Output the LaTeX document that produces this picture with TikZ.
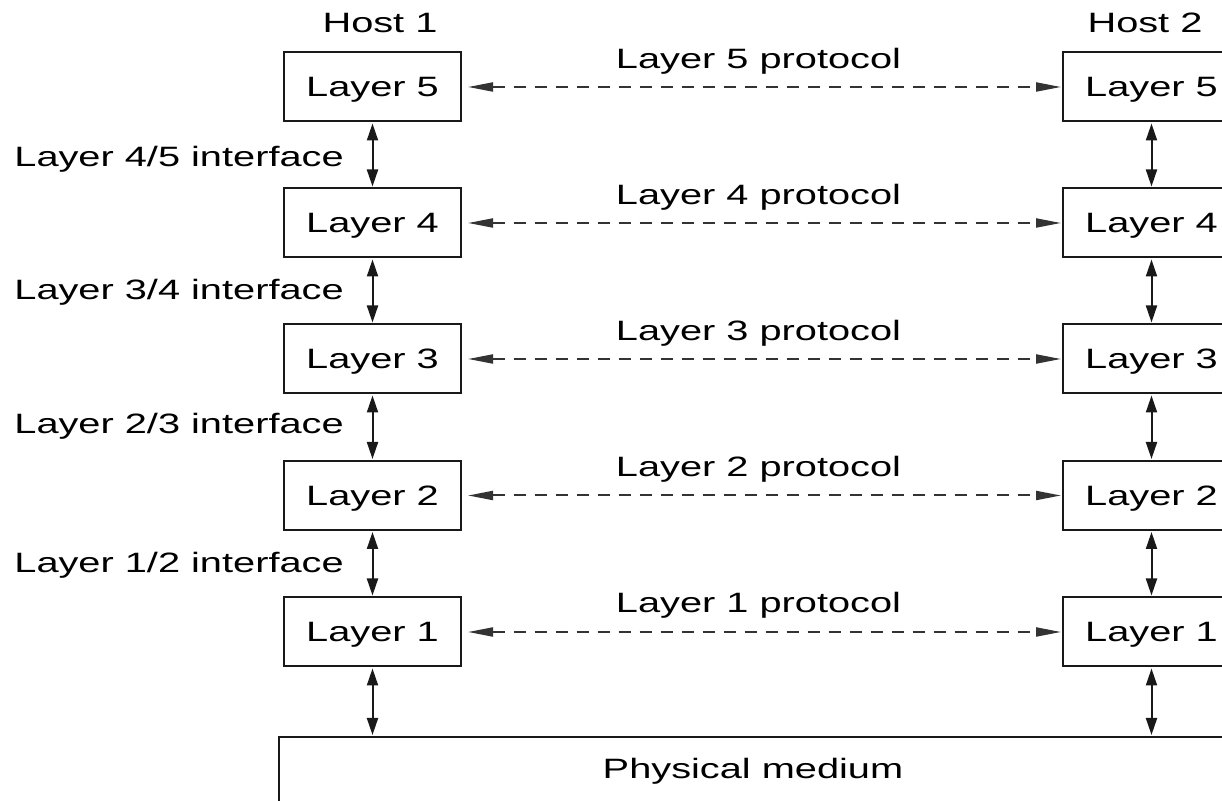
\documentclass[tikz,border=0pt]{standalone}
\usepackage{fontspec}
\newfontfamily\wf{Liberation Sans}[FakeStretch=1.42]
\usetikzlibrary{arrows.meta}
\begin{document}
\begin{tikzpicture}[x=0.5pt,y=-0.5pt,
  txt/.style={font=\wf\fontsize{14pt}{16pt}\selectfont, inner sep=0pt, text=black},
  layerbox/.style={txt, draw=black!90, line width=1pt, minimum width=88.5pt, minimum height=34.5pt, text height=10pt, text depth=0pt},
  vert/.style={draw=black!90, line width=1pt, {Triangle[length=8.5pt,width=5.5pt]}-{Triangle[length=8.5pt,width=5.5pt]}, shorten <=0.5pt, shorten >=0.5pt},
  proto/.style={draw=black!80, line width=1pt, dash pattern=on 6pt off 4.5pt, {Triangle[length=12.5pt,width=4.5pt]}-{Triangle[length=12.5pt,width=4.5pt]}, shorten <=3pt, shorten >=0.5pt}
]
\useasboundingbox (0,0) rectangle (1222,801);
\clip (0,0) rectangle (1222,801);
\fill[white] (0,0) rectangle (1222,801);

\node[txt, anchor=base] (h1) at (380,33) {Host 1};
\node[txt, anchor=base] (h2) at (1145,33) {Host 2};

\foreach \i/\y in {5/87,4/223,3/359,2/495.5,1/632}{
  \node[layerbox] (l\i) at (372.5,\y) {Layer \i};
  \node[layerbox] (r\i) at (1151.5,\y) {Layer \i};
}

\foreach \i/\b in {5/69,4/205,3/341,2/477,1/613}{
  \node[txt, anchor=base] (p\i) at (758.5,\b) {Layer \i{} protocol};
  \draw[proto] (l\i.east) -- (r\i.west);
}

\node[txt, anchor=base west] (i45) at (14,167) {Layer 4/5 interface};
\node[txt, anchor=base west] (i34) at (14,300) {Layer 3/4 interface};
\node[txt, anchor=base west] (i23) at (14,434) {Layer 2/3 interface};
\node[txt, anchor=base west] (i12) at (14,573) {Layer 1/2 interface};

\foreach \a/\b in {5/4,4/3,3/2,2/1}{
  \draw[vert] (l\a.south) -- (l\b.north);
  \draw[vert] (r\a.south) -- (r\b.north);
}

\node[draw=black!90, line width=1pt, anchor=north west, minimum width=500pt, minimum height=80pt, inner sep=0pt] (phys) at (278,736) {};
\node[txt, anchor=base] (physlabel) at (753,779) {Physical medium};

\draw[vert] (l1.south) -- (l1.south |- phys.north);
\draw[vert] (r1.south) -- (r1.south |- phys.north);
\end{tikzpicture}
\end{document}
